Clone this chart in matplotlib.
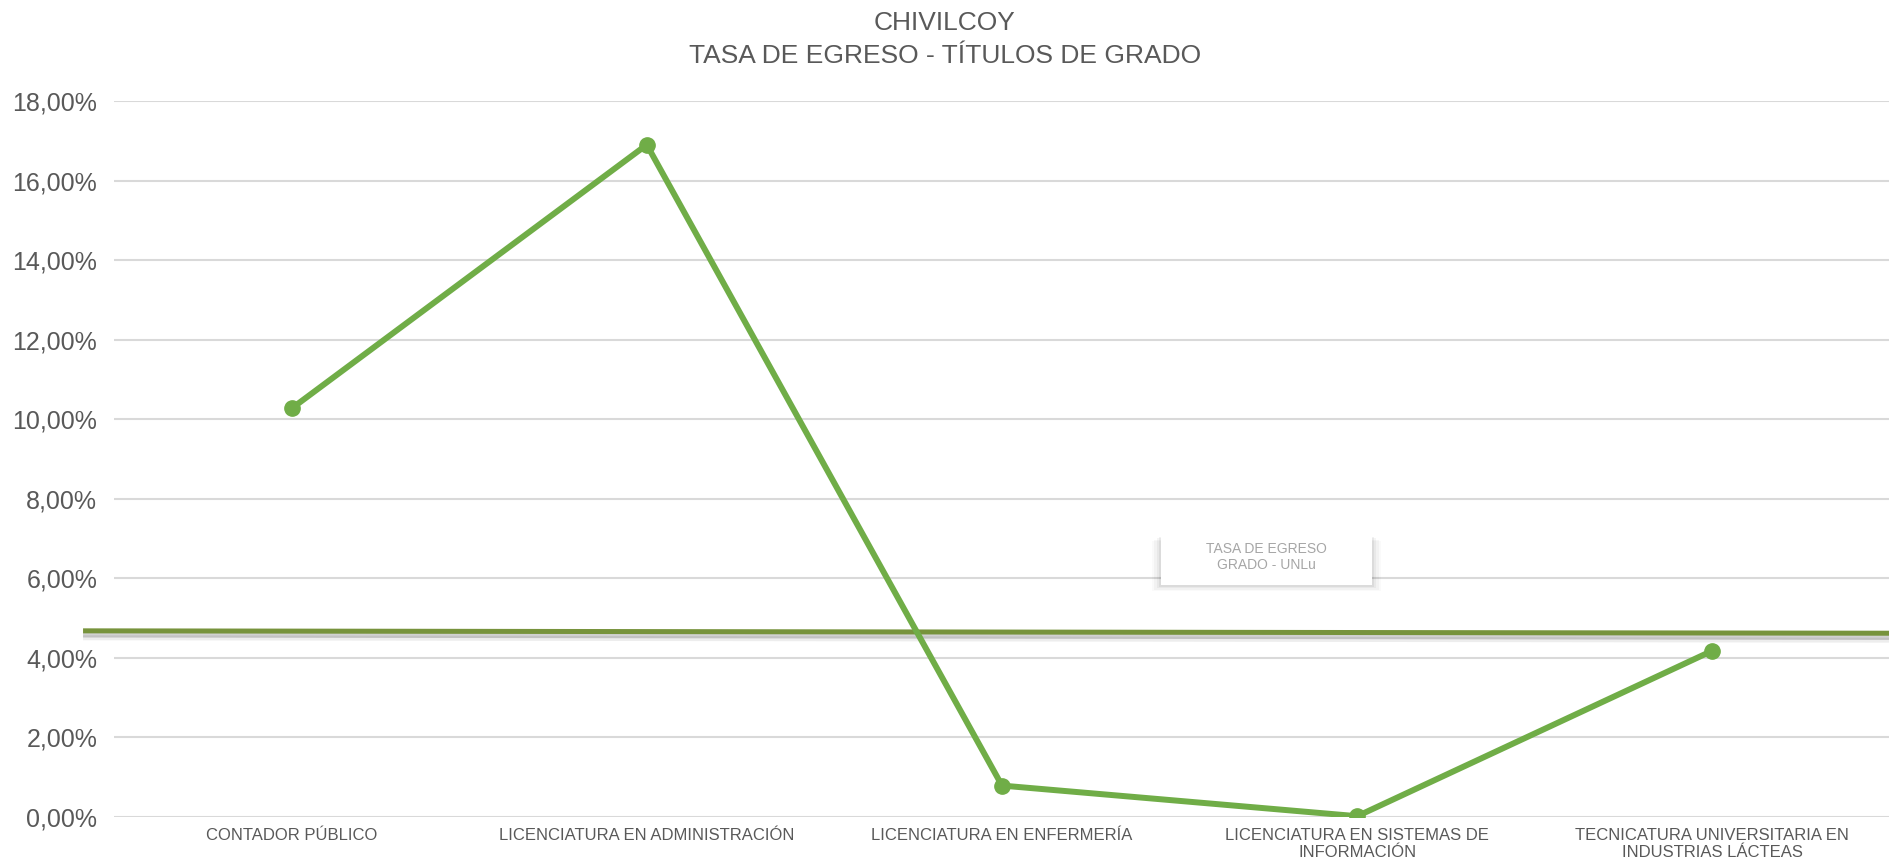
import matplotlib
matplotlib.use("Agg")
import matplotlib.pyplot as plt
import matplotlib.patheffects as pe
from matplotlib.patches import Rectangle
from matplotlib.ticker import FuncFormatter

# data
carreras = ["CONTADOR PÚBLICO",
            "LICENCIATURA EN ADMINISTRACIÓN",
            "LICENCIATURA EN ENFERMERÍA",
            "LICENCIATURA EN SISTEMAS DE\nINFORMACIÓN",
            "TECNICATURA UNIVERSITARIA EN\nINDUSTRIAS LÁCTEAS"]
tasa_egreso = [10.27, 16.90, 0.79, 0.02, 4.18]
# reference line (UNLu average), drawn as a slightly sloped shape
tasa_unlu_x = [-0.58, 4.5]
tasa_unlu_y = [4.68, 4.62]

plt.rcParams['font.family'] = ['Liberation Sans', 'DejaVu Sans']
gris = "#595959"

fig = plt.figure(figsize=(18.9, 8.64), dpi=100)
ax = fig.add_axes([0.0603, 0.0544, 0.9397, 0.8287])

x = list(range(len(carreras)))
ax.plot(x, tasa_egreso, color="#70AD47", lw=4.3, marker="o", ms=11,
        solid_joinstyle="round", zorder=4)

ax.plot(tasa_unlu_x, tasa_unlu_y, color="#77933C", lw=3.6, clip_on=False, zorder=3,
        path_effects=[pe.SimpleLineShadow(offset=(0, -3), shadow_color="black", alpha=0.18),
                      pe.SimpleLineShadow(offset=(0, -5), shadow_color="black", alpha=0.07),
                      pe.Normal()])

ax.set_xlim(-0.5, 4.5)
ax.set_ylim(0, 18)
ax.set_yticks(range(0, 19, 2))
ax.yaxis.set_major_formatter(FuncFormatter(lambda v, p: f"{v:.2f}%".replace(".", ",")))
ax.set_xticks(x)
ax.set_xticklabels(carreras, fontsize=12, color=gris, linespacing=1.15)
ax.tick_params(axis="y", labelsize=18, colors=gris, length=0, pad=12)
ax.tick_params(axis="x", length=0, pad=8)

ax.grid(axis="y", color="#D9D9D9", lw=1.5)
ax.set_axisbelow(True)
for s in ax.spines.values():
    s.set_visible(False)

fig.text(0.5, 0.987, "CHIVILCOY\nTASA DE EGRESO - TÍTULOS DE GRADO",
         ha="center", va="top", fontsize=19, color=gris, linespacing=1.45)

# label box for the UNLu line, with a soft shadow underneath
bx, by, bw, bh = 1161 / 1890, 1 - 585 / 864, 211 / 1890, 50 / 864
for i, a in enumerate([0.05, 0.04, 0.03, 0.02]):
    d = (i + 1) / 864
    fig.add_artist(Rectangle((bx - d, by - d * 1.5), bw + 2 * d, bh, transform=fig.transFigure,
                             facecolor="black", edgecolor="none", alpha=a, zorder=4.9))
fig.add_artist(Rectangle((bx, by), bw, bh, transform=fig.transFigure,
                         facecolor="white", edgecolor="none", zorder=5))
fig.text(1266 / 1890, 1 - 557 / 864, "TASA DE EGRESO\nGRADO - UNLu", ha="center", va="center",
         fontsize=10, color="#A6A6A6", zorder=6, linespacing=1.2)

fig.savefig("out.png", dpi=100)
